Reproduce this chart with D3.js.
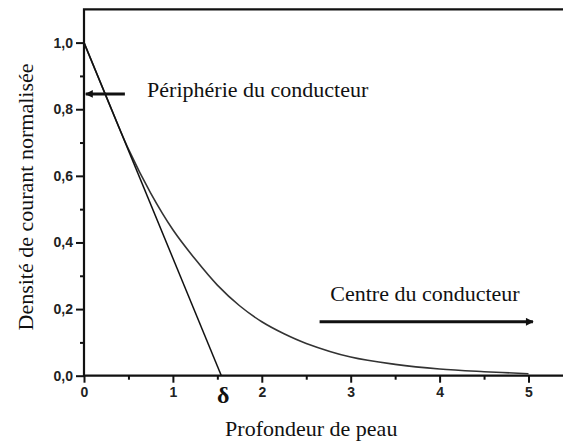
<!DOCTYPE html>
<html>
<head>
<meta charset="utf-8">
<script src="https://cdn.jsdelivr.net/npm/d3@7"></script>
<style>
  body { margin: 0; background: #fff; }
  svg { display: block; }
</style>
</head>
<body>
<div id="chart"></div>
<script>
// profondeur (x) et densite normalisee (y)
var depth   = [0, 0.25, 0.5, 0.75, 1.0, 1.25, 1.5, 1.75, 2.0, 2.25, 2.5, 3.0, 3.5, 4.0, 4.5, 5.0];
var density = [1.0, 0.838, 0.68, 0.548, 0.438, 0.35, 0.272, 0.21, 0.162, 0.126, 0.097, 0.056, 0.034, 0.02, 0.012, 0.006];

// tangente a l'origine, coupe l'axe en delta
var tangentX = [0, 1.545];
var tangentY = [1.0, 0];

var xMajor = [0, 1, 2, 3, 4, 5];
var xMinor = [0.5, 1.5, 2.5, 3.5, 4.5];
var yMajor = [0, 0.2, 0.4, 0.6, 0.8, 1.0];
var yMinor = [0.1, 0.3, 0.5, 0.7, 0.9];

// annotations (en unites du graphe)
var peripheryArrow = { x: [0.46, 0.02], y: 0.846 };
var centreArrow    = { x: [2.65, 5.05], y: 0.162 };
var peripheryText  = { x: 0.71, y: 0.838, label: "Périphérie du conducteur" };
var centreText     = { x: 2.77, y: 0.225, label: "Centre du conducteur" };
var deltaMark      = { x: 1.565, label: "δ" };

var serif = "'Liberation Serif', 'Times New Roman', 'DejaVu Serif', serif";
var sans = "'Liberation Sans', Arial, sans-serif";

var width = 563, height = 441;
var x0 = 84, xEnd = 563, y0 = 375.7, yTop = 9.3;

var x = d3.scaleLinear().domain([0, 5]).range([x0, 528.5]);
var y = d3.scaleLinear().domain([0, 1.1]).range([y0, yTop]);

var svg = d3.select("#chart").append("svg")
  .attr("width", width)
  .attr("height", height);

svg.append("rect")
  .attr("width", width)
  .attr("height", height)
  .attr("fill", "#fff");

var fmt = function (d) { return d3.format(".1f")(d).replace(".", ","); };

function styleAxis(g) {
  g.select(".domain").remove();
  g.selectAll("line").attr("stroke", "#111").attr("stroke-width", 2);
  g.selectAll("text")
    .style("font-family", sans)
    .style("font-weight", "bold")
    .style("font-size", "14px")
    .attr("fill", "#222");
}

// minor ticks
svg.append("g")
  .attr("transform", "translate(0," + y0 + ")")
  .call(d3.axisBottom(x).tickValues(xMinor).tickSize(4).tickFormat(""))
  .call(styleAxis);

svg.append("g")
  .attr("transform", "translate(" + x0 + ",0)")
  .call(d3.axisLeft(y).tickValues(yMinor).tickSize(4).tickFormat(""))
  .call(styleAxis);

// major ticks
svg.append("g")
  .attr("transform", "translate(0," + y0 + ")")
  .call(d3.axisBottom(x).tickValues(xMajor).tickSize(7).tickPadding(4).tickFormat(d3.format("d")))
  .call(styleAxis);

svg.append("g")
  .attr("transform", "translate(" + x0 + ",0)")
  .call(d3.axisLeft(y).tickValues(yMajor).tickSize(8).tickPadding(3).tickFormat(fmt))
  .call(styleAxis);

// axis lines + top frame
svg.append("path")
  .attr("d", "M" + xEnd + "," + yTop + "H" + x0 + "V" + y0 + "H" + xEnd)
  .attr("fill", "none")
  .attr("stroke", "#111")
  .attr("stroke-width", 2.2);

// courbe
var line = d3.line()
  .curve(d3.curveCatmullRom.alpha(0.5))
  .x(function (d, i) { return x(depth[i]); })
  .y(function (d) { return y(d); });

svg.append("path")
  .datum(density)
  .attr("d", line)
  .attr("fill", "none")
  .attr("stroke", "#333")
  .attr("stroke-width", 1.6);

// tangente
svg.append("line")
  .attr("x1", x(tangentX[0])).attr("y1", y(tangentY[0]))
  .attr("x2", x(tangentX[1])).attr("y2", y(tangentY[1]))
  .attr("stroke", "#111")
  .attr("stroke-width", 1.5);

// fleches
var defs = svg.append("defs");
defs.append("marker")
  .attr("id", "head")
  .attr("viewBox", "0 0 10 10")
  .attr("refX", 9).attr("refY", 5)
  .attr("markerWidth", 3.2).attr("markerHeight", 2.6)
  .attr("markerUnits", "strokeWidth")
  .attr("orient", "auto")
  .append("path")
  .attr("d", "M0,0L10,5L0,10Z")
  .attr("fill", "#111");

[peripheryArrow, centreArrow].forEach(function (a) {
  svg.append("line")
    .attr("x1", x(a.x[0])).attr("y1", y(a.y))
    .attr("x2", x(a.x[1])).attr("y2", y(a.y))
    .attr("stroke", "#111")
    .attr("stroke-width", 3)
    .attr("marker-end", "url(#head)");
});

[peripheryText, centreText].forEach(function (t) {
  svg.append("text")
    .attr("x", x(t.x))
    .attr("y", y(t.y))
    .style("font-family", serif)
    .style("font-size", "22px")
    .attr("fill", "#111")
    .text(t.label);
});

svg.append("text")
  .attr("x", x(deltaMark.x))
  .attr("y", 403)
  .attr("text-anchor", "middle")
  .style("font-family", serif)
  .style("font-size", "24px")
  .style("font-weight", "bold")
  .attr("fill", "#111")
  .text(deltaMark.label);

// titres des axes
svg.append("text")
  .attr("x", x(2.5) + 5)
  .attr("y", 436)
  .attr("text-anchor", "middle")
  .style("font-family", serif)
  .style("font-size", "22px")
  .attr("fill", "#111")
  .text("Profondeur de peau");

svg.append("text")
  .attr("transform", "translate(33,197) rotate(-90)")
  .attr("text-anchor", "middle")
  .style("font-family", serif)
  .style("font-size", "22px")
  .attr("fill", "#111")
  .text("Densité de courant normalisée");
</script>
</body>
</html>
